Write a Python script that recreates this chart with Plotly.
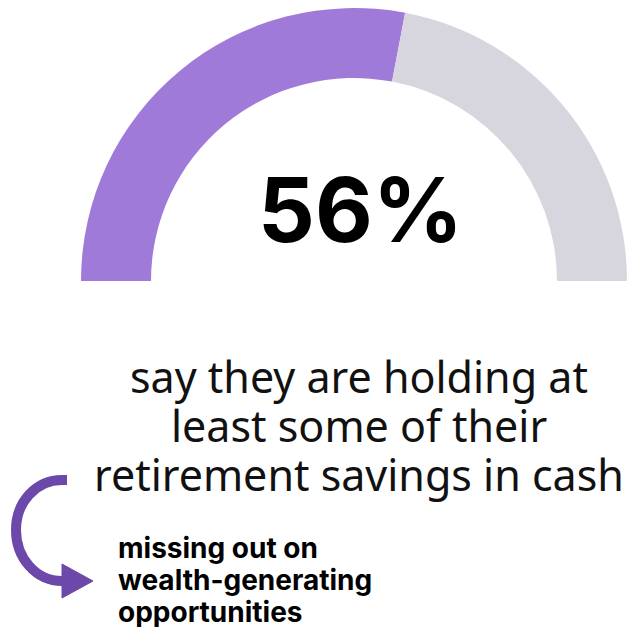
import plotly.graph_objects as go

# Share of respondents holding retirement savings in cash
share_cash = 56
share_rest = 100 - share_cash
slice_values = [share_cash, share_rest, 100]  # last slice is the hidden lower half
slice_colors = ["#A07AD8", "#D7D6DF", "rgba(0,0,0,0)"]

headline = f"{share_cash}%"
caption_lines = [
    "say they are holding at",
    "least some of their",
    "retirement savings in cash",
]
callout_lines = [
    "missing out on",
    "wealth-generating",
    "opportunities",
]

W, H = 631, 627

fig = go.Figure()

# Half-donut gauge: a full pie whose bottom half is transparent
cx, cy, r_out, r_in = 354, 281, 273, 203
fig.add_trace(go.Pie(
    values=slice_values,
    marker=dict(colors=slice_colors, line=dict(width=0)),
    hole=r_in / r_out,
    sort=False,
    direction="clockwise",
    rotation=270,
    textinfo="none",
    hoverinfo="none",
    showlegend=False,
    domain=dict(x=[(cx - r_out) / W, (cx + r_out) / W],
                y=[1 - (cy + r_out) / H, 1 - (cy - r_out) / H]),
))

annotations = [dict(
    x=360, y=209, xref="x", yref="y", text=f"<b>{headline}</b>", showarrow=False,
    font=dict(family="Inter", size=89, color="#000000", weight=900),
    xanchor="center", yanchor="middle",
)]

for i, line in enumerate(caption_lines):
    annotations.append(dict(
        x=359, y=376 + 49 * i, xref="x", yref="y", text=line, showarrow=False,
        font=dict(family="Noto Sans", size=43, color="#111111"),
        xanchor="center", yanchor="middle",
    ))

for i, line in enumerate(callout_lines):
    annotations.append(dict(
        x=116, y=548 + 32 * i, xref="x", yref="y", text=f"<b>{line}</b>", showarrow=False,
        font=dict(family="Inter", size=28, color="#000000", weight=800),
        xanchor="left", yanchor="middle",
    ))

# Curved arrow leading down to the callout
arrow_col = "#6B48AA"
shapes = [
    dict(type="path", xref="x", yref="y",
         path="M 67,480 L 62,480 C 36,480 16,502 16,530 C 16,558 36,581 62,581 L 66,581",
         line=dict(color=arrow_col, width=10), fillcolor="rgba(0,0,0,0)"),
    dict(type="path", xref="x", yref="y",
         path="M 62,564 L 93,581 L 62,598 Z",
         line=dict(color=arrow_col, width=1), fillcolor=arrow_col),
]

fig.update_layout(
    width=W, height=H,
    margin=dict(l=0, r=0, t=0, b=0),
    paper_bgcolor="white", plot_bgcolor="rgba(0,0,0,0)",
    xaxis=dict(range=[0, W], visible=False, fixedrange=True),
    yaxis=dict(range=[H, 0], visible=False, fixedrange=True),
    annotations=annotations,
    shapes=shapes,
)

fig.write_html("out.html")
